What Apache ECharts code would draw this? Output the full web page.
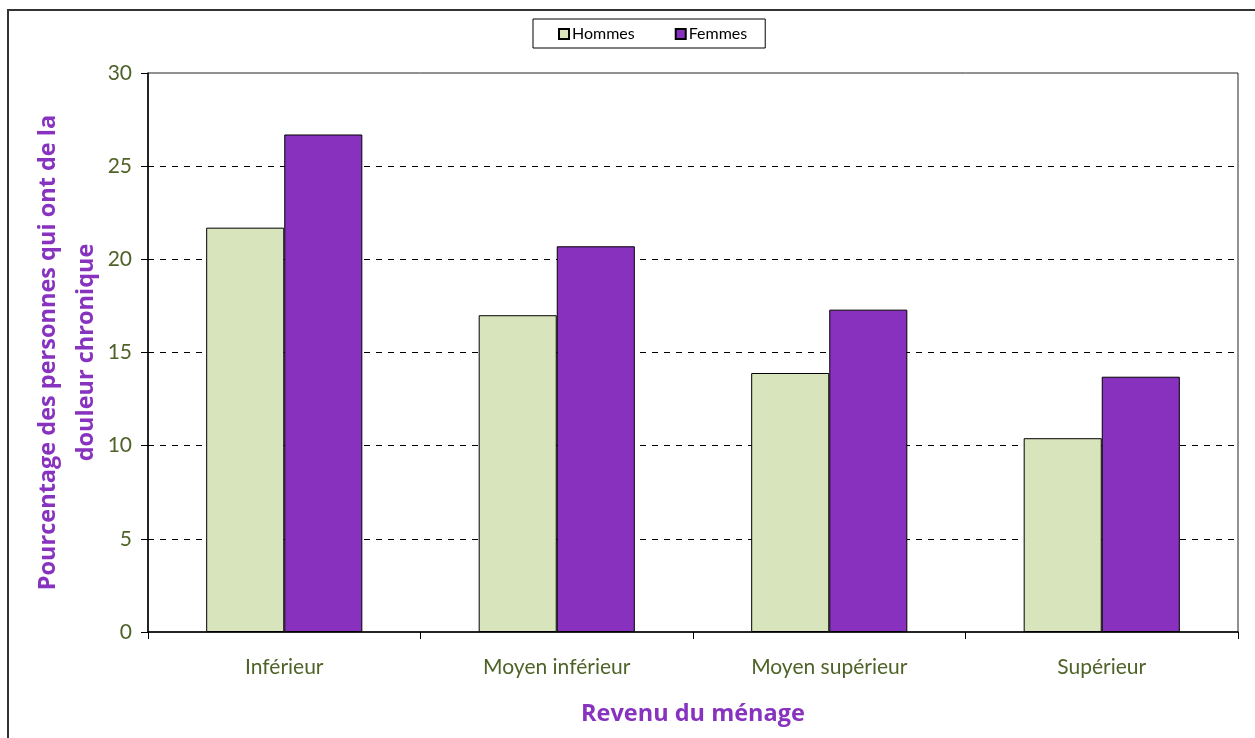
<!DOCTYPE html>
<html>
<head>
<meta charset="utf-8">
<script src="https://cdn.jsdelivr.net/npm/echarts@6/dist/echarts.min.js"></script>
<style>
html,body{margin:0;padding:0;background:#fff;}
#chart{width:1255px;height:738px;}
</style>
</head>
<body>
<div id="chart"></div>
<script>
const categories = ['Inférieur', 'Moyen inférieur', 'Moyen supérieur', 'Supérieur'];
const hommes = [21.7, 17.0, 13.9, 10.4];
const femmes = [26.7, 20.7, 17.3, 13.7];
const yTicks = [0, 5, 10, 15, 20, 25, 30];

const FONT = 'Lato, "Open Sans", sans-serif';
const BOLD_FONT = '"Open Sans", Lato, sans-serif';
const PURPLE = '#8833BF';
const GREEN_TEXT = '#4F6228';

const chart = echarts.init(document.getElementById('chart'));
chart.setOption({
  backgroundColor: '#fff',
  animation: false,
  textStyle: { fontFamily: FONT },
  graphic: [{
    type: 'rect',
    shape: { x: 8, y: 10, width: 1300, height: 800 },
    style: { fill: null, stroke: '#333', lineWidth: 2 },
    silent: true, z: 0
  }],
  legend: {
    left: 533, top: 19,
    padding: [7, 18, 6, 25],
    borderColor: '#000', borderWidth: 1,
    itemWidth: 10, itemHeight: 10, itemGap: 40,
    icon: 'rect',
    textStyle: { fontSize: 16, color: '#000', fontFamily: FONT, padding: [0, 0, 0, -2] },
    data: ['Hommes', 'Femmes']
  },
  grid: {
    left: 148, right: 17, top: 73, bottom: 106,
    show: true, borderColor: '#222', borderWidth: 1,
    containLabel: false
  },
  xAxis: {
    type: 'category',
    data: categories,
    axisLine: { show: true, lineStyle: { color: '#000', width: 1.5 } },
    axisTick: { show: true, length: 7, lineStyle: { color: '#000' } },
    axisLabel: { color: GREEN_TEXT, fontSize: 21, margin: 25, fontFamily: FONT },
    name: 'Revenu du ménage',
    nameLocation: 'middle',
    nameGap: 70,
    nameMoveOverlap: false,
    nameTextStyle: { color: PURPLE, fontSize: 23.5, fontWeight: 'bold', fontFamily: BOLD_FONT }
  },
  yAxis: {
    type: 'value',
    min: yTicks[0], max: yTicks[yTicks.length - 1], interval: 5,
    axisLine: { show: true, lineStyle: { color: '#000', width: 1.5 } },
    axisTick: { show: true, length: 7, lineStyle: { color: '#000' } },
    axisLabel: { color: GREEN_TEXT, fontSize: 21, margin: 16, fontFamily: FONT },
    splitLine: { show: true, showMaxLine: false, showMinLine: false, lineStyle: { color: '#000', type: [6, 6], width: 1 } },
    name: 'Pourcentage des personnes qui ont de la\ndouleur chronique',
    nameLocation: 'middle',
    nameGap: 43,
    nameMoveOverlap: false,
    nameTextStyle: { color: PURPLE, fontSize: 23.5, fontWeight: 'bold', lineHeight: 38, fontFamily: BOLD_FONT, align: 'center' }
  },
  series: [
    {
      name: 'Hommes', type: 'bar', data: hommes,
      barGap: '0%', barCategoryGap: '42.7%',
      itemStyle: { color: '#D8E4BC', borderColor: '#000', borderWidth: 1 }
    },
    {
      name: 'Femmes', type: 'bar', data: femmes,
      barGap: '0%', barCategoryGap: '42.7%',
      itemStyle: { color: '#8731BE', borderColor: '#000', borderWidth: 1 }
    }
  ]
});
</script>
</body>
</html>
